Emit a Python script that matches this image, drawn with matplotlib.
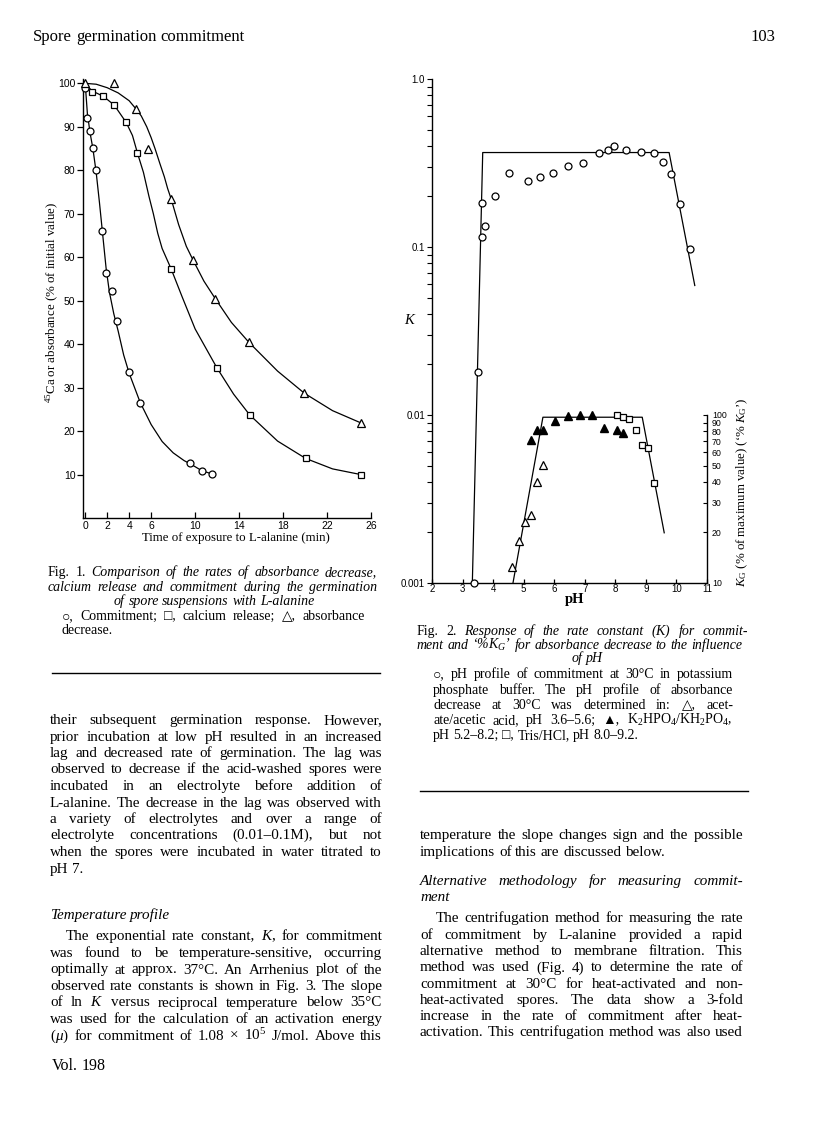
import numpy as np
import matplotlib
matplotlib.use('Agg')
import matplotlib.pyplot as plt
from matplotlib.ticker import FixedLocator, LogLocator, NullFormatter, NullLocator

plt.rcParams['mathtext.fontset'] = 'custom'
plt.rcParams['mathtext.rm'] = 'Liberation Serif'
plt.rcParams['mathtext.it'] = 'Liberation Serif:italic'
plt.rcParams['mathtext.bf'] = 'Liberation Serif:bold'

SERIF = ['Liberation Serif', 'DejaVu Sans']
SANS = ['Liberation Sans', 'DejaVu Sans']

# ---- Fig. 1 data (time in min, % of initial value) ----
commit_t = [0, 0.18, 0.43, 0.7, 1.0, 1.57, 1.88, 2.43, 2.91, 3.97, 5.03, 9.57, 10.6, 11.57]
commit_v = [99, 92.1, 89, 85.2, 80, 66.1, 56.3, 52.3, 45.4, 33.5, 26.5, 12.6, 10.7, 10.1]
calcium_t = [0.61, 1.66, 2.64, 3.73, 4.75, 7.82, 11.97, 14.97, 20.06, 25.06]
calcium_v = [98, 97, 95.1, 91.0, 84, 57.3, 34.6, 23.7, 13.7, 10.0]
absorb_t = [0, 2.64, 4.66, 5.7, 7.82, 9.82, 11.85, 14.9, 19.94, 25.06]
absorb_v = [100, 100, 94, 84.9, 73.4, 59.3, 50.4, 40.4, 28.7, 21.9]

# hand-drawn fitted curves
commit_fit_t = [0, 0.2, 0.45, 0.7, 1.0, 1.3, 1.6, 1.9, 2.2, 2.6, 3.0, 3.5, 4.0, 5.0, 6.0, 7.0, 8.0, 9.0, 9.6, 10.6, 11.57]
commit_fit_v = [100, 93, 88.5, 85, 79.5, 72.5, 65, 57.5, 52, 47, 43, 37.5, 33.3, 26.6, 21.5, 17.6, 15, 13.2, 12.4, 10.9, 10.1]
calcium_fit_t = [0, 0.6, 1.66, 2.64, 3.73, 4.3, 4.75, 5.3, 5.8, 6.2, 6.6, 7.0, 7.82, 8.8, 10.0, 11.97, 13.5, 14.97, 17.5, 20.06, 22.5, 25.06]
calcium_fit_v = [100, 98.3, 97, 95, 91, 88, 84, 79.5, 74, 70, 65.5, 62, 57.3, 51, 43.5, 34.6, 28.5, 23.7, 17.7, 13.7, 11.3, 10.0]
absorb_fit_t = [0, 1, 2, 3, 4, 4.66, 5.1, 5.6, 6.0, 6.35, 6.8, 7.2, 7.5, 7.82, 8.5, 9.2, 9.82, 10.8, 11.85, 13.3, 14.9, 17.5, 19.94, 22.5, 25.06]
absorb_fit_v = [100, 99.8, 99, 97.8, 96, 94, 92.5, 90, 87.5, 85, 81.5, 78.5, 75.8, 73.4, 67.5, 62.5, 59.3, 54.5, 50.4, 45, 40.4, 33.8, 28.7, 24.7, 21.9]

fig1_xticks = [0, 2, 4, 6, 10, 14, 18, 22, 26]
fig1_yticks = [10, 20, 30, 40, 50, 60, 70, 80, 90, 100]

# ---- Fig. 2 data ----
ph_k = [3.36, 3.49, 3.63, 3.74, 3.62, 4.05, 4.53, 5.15, 5.54, 5.95, 6.45, 6.95, 7.45, 7.75, 7.96, 8.36, 8.85, 9.26, 9.57, 9.83, 10.1, 10.43]
k_val = [0.001, 0.018, 0.115, 0.133, 0.183, 0.202, 0.276, 0.247, 0.261, 0.277, 0.303, 0.318, 0.364, 0.378, 0.397, 0.376, 0.369, 0.364, 0.321, 0.272, 0.180, 0.0977]
k_fit_ph = [3.32, 3.66, 9.76, 10.6]
k_fit = [0.001, 0.365, 0.365, 0.059]

ph_acet = [4.63, 4.84, 5.05, 5.23, 5.44, 5.64]
kg_acet = [12.4, 17.9, 23.2, 25.4, 39.7, 50.1]
ph_phos = [5.23, 5.42, 5.63, 6.04, 6.44, 6.85, 7.24, 7.64, 8.04, 8.25]
kg_phos = [71.3, 81.8, 81.8, 92.1, 98.2, 100, 100, 84, 80.9, 78.2]
ph_tris = [8.05, 8.25, 8.46, 8.66, 8.88, 9.06, 9.28]
kg_tris = [100, 97.8, 94.3, 81.8, 65.9, 63.3, 39.2]
kg_fit_ph = [4.65, 5.63, 8.88, 9.60]
kg_fit = [10, 97, 97, 19.9]

fig2_xticks = [2, 3, 4, 5, 6, 7, 8, 9, 10, 11]
fig2_kticks = [0.001, 0.01, 0.1, 1.0]
fig2_klabels = ['0.001', '0.01', '0.1', '1.0']
fig2_kgticks = [10, 20, 30, 40, 50, 60, 70, 80, 90, 100]

W, H = 816, 1136
fig = plt.figure(figsize=(W / 100, H / 100), dpi=100)


def fx(x):
    return x / W


def fy(y):
    return 1 - y / H


# ================= Fig. 1 =================
ax1 = fig.add_axes([fx(83), fy(518), 288 / W, 439 / H])
ax1.plot(commit_fit_t, commit_fit_v, color='k', lw=0.9, zorder=2)
ax1.plot(calcium_fit_t, calcium_fit_v, color='k', lw=0.9, zorder=2)
ax1.plot(absorb_fit_t, absorb_fit_v, color='k', lw=0.9, zorder=2)
mk = dict(ls='none', mfc='white', mec='k', mew=0.9, zorder=3, clip_on=False)
ax1.plot(commit_t, commit_v, marker='o', ms=5, **mk)
ax1.plot(calcium_t, calcium_v, marker='s', ms=5, **mk)
ax1.plot(absorb_t, absorb_v, marker='^', ms=5.5, **mk)
ax1.set_xlim(-0.2, 26)
ax1.set_ylim(0, 101)
for s in ['top', 'right']:
    ax1.spines[s].set_visible(False)
for s in ['left', 'bottom']:
    ax1.spines[s].set_linewidth(1.0)
ax1.set_xticks(fig1_xticks)
ax1.set_yticks(fig1_yticks)
ax1.tick_params(axis='x', direction='in', length=4, width=0.9, labelsize=7.5, pad=2.5)
ax1.tick_params(axis='y', direction='out', length=4, width=0.9, labelsize=7.5, pad=1.5)
for lab in ax1.get_xticklabels() + ax1.get_yticklabels():
    lab.set_family(SANS)
fig.text(fx(236), fy(541), 'Time of exposure to L-alanine (min)', family=SERIF,
         fontsize=9.3, ha='center', va='baseline')
fig.text(fx(52), fy(302), '$^{45}$Ca or absorbance (% of initial value)', family=SERIF,
         fontsize=9.3, ha='center', va='center', rotation=90)

# ================= Fig. 2 =================
ax2 = fig.add_axes([fx(432), fy(583), 275 / W, 504 / H])
ax2.set_yscale('log')
ax2.plot(k_fit_ph, k_fit, color='k', lw=0.9, zorder=2)
ax2.plot(ph_k, k_val, marker='o', ms=5, **mk)
ax2.set_xlim(2, 11)
ax2.set_ylim(0.001, 1.0)
for s in ['top', 'right']:
    ax2.spines[s].set_visible(False)
for s in ['left', 'bottom']:
    ax2.spines[s].set_linewidth(1.0)
ax2.set_xticks(fig2_xticks)
ax2.yaxis.set_major_locator(FixedLocator(fig2_kticks))
ax2.set_yticklabels(fig2_klabels)
ax2.yaxis.set_minor_locator(LogLocator(base=10, subs=range(2, 10)))
ax2.yaxis.set_minor_formatter(NullFormatter())
ax2.tick_params(axis='x', direction='in', length=3, width=0.9, labelsize=7, pad=0.5)
ax2.tick_params(axis='y', which='both', direction='out', length=3.5, width=0.8, labelsize=7, pad=1.5)
for lab in ax2.get_xticklabels() + ax2.get_yticklabels():
    lab.set_family(SANS)

ax3 = ax2.twinx()
ax3.set_yscale('log')
ax3.set_ylim(10, 10000)
ax3.plot(kg_fit_ph, kg_fit, color='k', lw=0.9, zorder=2)
ax3.plot(ph_acet, kg_acet, marker='^', ms=5.5, **mk)
ax3.plot(ph_phos, kg_phos, marker='^', ms=5.5, ls='none', mfc='k', mec='k', zorder=3)
ax3.plot(ph_tris, kg_tris, marker='s', ms=5, **mk)
for s in ['top', 'left', 'bottom']:
    ax3.spines[s].set_visible(False)
ax3.spines['right'].set_bounds(10, 100)
ax3.spines['right'].set_linewidth(1.0)
ax3.yaxis.set_major_locator(FixedLocator(fig2_kgticks))
ax3.set_yticklabels([str(v) for v in fig2_kgticks])
ax3.yaxis.set_minor_locator(NullLocator())
ax3.tick_params(axis='y', direction='in', length=3, width=0.8, labelsize=6.3, pad=3.5)
for lab in ax3.get_yticklabels():
    lab.set_family(SANS)

fig.text(fx(575), fy(603), 'pH', family=SERIF, fontsize=10.5, fontweight='bold',
         ha='center', va='baseline')
fig.text(fx(410), fy(320), '$K$', family=SERIF, fontsize=10.5, ha='center', va='center')
fig.text(fx(742), fy(492), r"$K_\mathrm{G}$ (% of maximum value) (‘% $K_\mathrm{G}$’)",
         family=SERIF, fontsize=9.3, rotation=90, ha='center', va='center')

# ================= page text =================
renderer = fig.canvas.get_renderer()
BODY = 10.9
CAP = 10.0


def put_line(s, y, x0, x1=None, size=BODY, style='normal', n_roman=0, center=None):
    words = s.split(' ')
    while True:
        items = []
        for i, w in enumerate(words):
            st = 'normal' if i < n_roman else style
            items.append(fig.text(0, 0, w, family=SERIF, fontsize=size, fontstyle=st,
                                  ha='left', va='baseline'))
        widths = [t.get_window_extent(renderer).width for t in items]
        gap = size * 0.25 * 100 / 72
        if x1 is not None and len(words) > 1:
            gap = (x1 - x0 - sum(widths)) / (len(words) - 1)
            if gap < size * 0.15 * 100 / 72:
                for t in items:
                    t.remove()
                size -= 0.15
                continue
        break
    if center is not None:
        x0 = center - (sum(widths) + gap * (len(words) - 1)) / 2
    x = x0
    for t, w in zip(items, widths):
        t.set_position((fx(x), fy(y)))
        x += w + gap


# header / footer
put_line('Spore germination commitment', 41, 33, size=12)
put_line('103', 41, 750, size=12)
put_line('Vol. 198', 1070, 52, size=11.5)

# Fig. 1 caption
put_line('Fig. 1. Comparison of the rates of absorbance decrease,', 576, 48, 377, CAP, 'italic', 2)
put_line('calcium release and commitment during the germination', 591, 48, 377, CAP, 'italic')
put_line('of spore suspensions with L-alanine', 605, 0, None, CAP, 'italic', center=214)
put_line('○, Commitment; □, calcium release; △, absorbance', 620, 62, 365, CAP)
put_line('decrease.', 634, 62, None, CAP)

# Fig. 2 caption
put_line('Fig. 2. Response of the rate constant ($K$) for commit-', 635, 417, 748, CAP, 'italic', 2)
put_line('ment and ‘%$K_G$’ for absorbance decrease to the influence', 649, 417, 742, CAP, 'italic')
put_line('of pH', 662, 0, None, CAP, 'italic', center=587)
put_line('○, pH profile of commitment at 30°C in potassium', 678, 433, 733, CAP)
put_line('phosphate buffer. The pH profile of absorbance', 694, 433, 733, CAP)
put_line('decrease at 30°C was determined in: △, acet-', 709, 433, 733, CAP)
put_line(r'ate/acetic acid, pH 3.6–5.6; ▲, $\mathrm{K_2HPO_4/KH_2PO_4}$,', 724, 433, 732, CAP)
put_line('pH 5.2–8.2; □, Tris/HCl, pH 8.0–9.2.', 739, 433, None, CAP)

# rules
fig.add_artist(plt.Line2D([fx(52), fx(380)], [fy(673), fy(673)], color='k', lw=1.0))
fig.add_artist(plt.Line2D([fx(420), fx(748)], [fy(791), fy(791)], color='k', lw=1.0))

# left column body
L0, L1 = 50, 382
left_lines = [
    ('their subsequent germination response. However,', 724, True),
    ('prior incubation at low pH resulted in an increased', 741, True),
    ('lag and decreased rate of germination. The lag was', 757, True),
    ('observed to decrease if the acid-washed spores were', 773, True),
    ('incubated in an electrolyte before addition of', 790, True),
    ('L-alanine. The decrease in the lag was observed with', 807, True),
    ('a variety of electrolytes and over a range of', 823, True),
    ('electrolyte concentrations (0.01–0.1M), but not', 839, True),
    ('when the spores were incubated in water titrated to', 856, True),
    ('pH 7.', 873, False),
]
for s, y, j in left_lines:
    put_line(s, y, L0, L1 if j else None)
put_line('Temperature profile', 919, L0, None, style='italic')
put_line('The exponential rate constant, $K$, for commitment', 940, 66, L1)
left_lines2 = [
    'was found to be temperature-sensitive, occurring',
    'optimally at approx. 37°C. An Arrhenius plot of the',
    'observed rate constants is shown in Fig. 3. The slope',
    'of ln $K$ versus reciprocal temperature below 35°C',
    'was used for the calculation of an activation energy',
    r'$(\mu)$ for commitment of 1.08 × 10$^5$ J/mol. Above this',
]
for i, s in enumerate(left_lines2):
    put_line(s, 957 + i * 16.5, L0, L1)

# right column body
R0, R1 = 420, 743
put_line('temperature the slope changes sign and the possible', 839, R0, R1)
put_line('implications of this are discussed below.', 856, R0, None)
put_line('Alternative methodology for measuring commit-', 885, R0, R1, style='italic')
put_line('ment', 901, R0, None, style='italic')
put_line('The centrifugation method for measuring the rate', 922, 436, R1)
right_lines = [
    'of commitment by L-alanine provided a rapid',
    'alternative method to membrane filtration. This',
    'method was used (Fig. 4) to determine the rate of',
    'commitment at 30°C for heat-activated and non-',
    'heat-activated spores. The data show a 3-fold',
    'increase in the rate of commitment after heat-',
    'activation. This centrifugation method was also used',
]
for i, s in enumerate(right_lines):
    put_line(s, 939 + i * 16.2, R0, R1)

fig.savefig('out.png', dpi=100)
